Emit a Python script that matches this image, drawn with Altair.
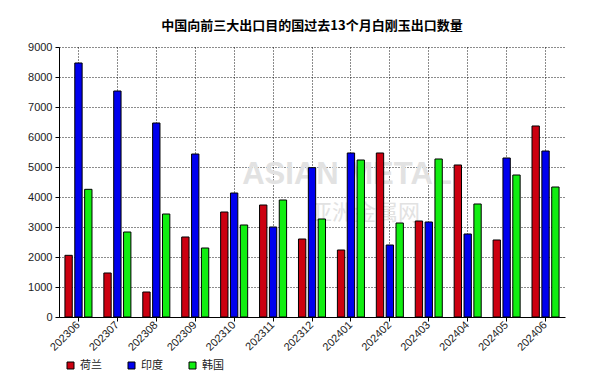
import altair as alt
import pandas as pd

months = ["202306", "202307", "202308", "202309", "202310", "202311", "202312",
          "202401", "202402", "202403", "202404", "202405", "202406"]
series = ["荷兰", "印度", "韩国"]
netherlands = [2056, 1467, 833, 2667, 3500, 3733, 2600, 2233, 5467, 3200, 5067, 2567, 6367]
india = [8467, 7533, 6467, 5433, 4133, 3000, 4978, 5467, 2400, 3167, 2767, 5300, 5533]
korea = [4256, 2833, 3433, 2300, 3067, 3900, 3267, 5233, 3133, 5267, 3767, 4733, 4333]
colors = ["#CC0010", "#0000EE", "#11EE11"]
y_ticks = list(range(0, 9001, 1000))

rows = []
for name, vals in zip(series, [netherlands, india, korea]):
    for m, v in zip(months, vals):
        rows.append({"month": m, "series": name, "value": v})
df = pd.DataFrame(rows)

FONT = "Liberation Sans"
CJK = "Noto Sans CJK SC"

bars = alt.Chart(df).mark_bar(stroke="black", strokeWidth=1).encode(
    x=alt.X("month:N", sort=months,
            scale=alt.Scale(paddingInner=0.305, paddingOuter=0.1525),
            axis=alt.Axis(title=None, labelAngle=-45, labelAlign="right", labelBaseline="middle",
                          labelFont=FONT, labelFontSize=11, labelColor="#222",
                          grid=True, gridColor="#000", gridDash=[1, 2], gridOpacity=0.9,
                          bandPosition=0.5, tickColor="#000", tickSize=4, labelPadding=2,
                          domainColor="#000")),
    xOffset=alt.XOffset("series:N", sort=series,
                        scale=alt.Scale(paddingInner=0.255, paddingOuter=0)),
    y=alt.Y("value:Q", scale=alt.Scale(domain=[0, 9000], nice=False),
            axis=alt.Axis(title=None, values=y_ticks, format="d",
                          labelFont=FONT, labelFontSize=11, labelColor="#222",
                          grid=True, gridColor="#000", gridDash=[1, 2], gridOpacity=0.9,
                          tickColor="#000", tickSize=4, labelPadding=3,
                          domainColor="#000")),
    color=alt.Color("series:N", sort=series,
                    scale=alt.Scale(domain=series, range=colors),
                    legend=alt.Legend(title=None, orient="none", direction="horizontal",
                                      legendX=6, legendY=313,
                                      symbolType="square", symbolSize=49,
                                      symbolStrokeColor="black", symbolStrokeWidth=1,
                                      symbolOpacity=1,
                                      labelFont=CJK, labelFontSize=11, labelColor="#222",
                                      labelOffset=4, columnPadding=24)),
)

wm_data = alt.Data(values=[{"a": 1}])
wm1 = alt.Chart(wm_data).mark_text(text="ASIAN METAL", font=FONT, fontSize=31, fontWeight="bold",
                                   color="#e2e2e2").encode(
    x=alt.value(288), y=alt.value(128))
wm2 = alt.Chart(wm_data).mark_text(text="亚洲金属网", font=CJK, fontSize=22,
                                   color="#e2e2e2").encode(
    x=alt.value(306), y=alt.value(166))

chart = alt.layer(wm1, wm2, bars).properties(
    width=506, height=270,
    title=alt.Title("中国向前三大出口目的国过去13个月白刚玉出口数量", font=CJK, fontSize=13,
                    fontWeight="bold", color="#000", anchor="middle", offset=8),
    autosize=alt.AutoSizeParams(type="none"),
    padding={"left": 51, "top": 39, "right": 30, "bottom": 55},
).configure_view(strokeWidth=0)

chart.save("out.html", embed_options={"renderer": "svg", "actions": False})
